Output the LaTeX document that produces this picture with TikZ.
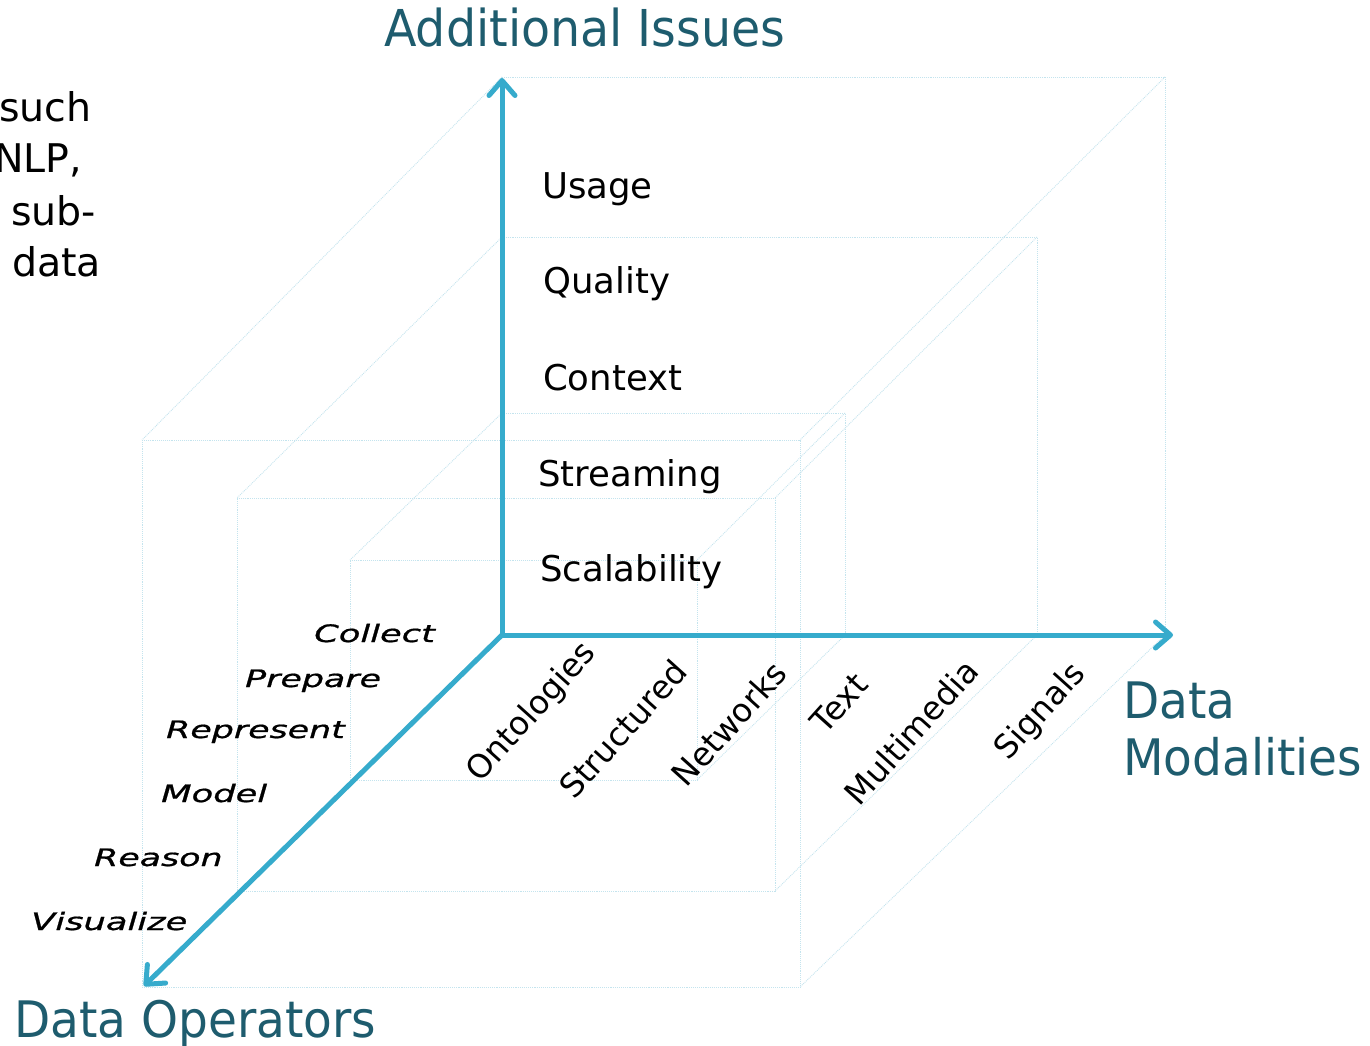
\documentclass[tikz,border=0pt]{standalone}
\usepackage{graphicx}
\usepackage{fontspec}
\setmainfont{DejaVu Sans}
\usetikzlibrary{arrows.meta}
\definecolor{axisblue}{RGB}{54,171,204}
\definecolor{titleteal}{RGB}{30,92,110}
\definecolor{faintline}{RGB}{196,228,238}
\tikzset{
  faint/.style={draw=faintline, line width=0.9pt, densely dotted},
  axisline/.style={draw=axisblue, line width=5pt, line cap=round, line join=round,
    -{Straight Barb[length=15pt,width=26pt,line cap=round,line join=round]}},
  titletext/.style={text=titleteal, inner sep=0pt, anchor=base west,
    font=\fontsize{47}{52}\selectfont},
  issue/.style={inner sep=0pt, anchor=base west, font=\fontsize{35.5}{42}\selectfont},
  operator/.style={inner sep=0pt, anchor=base west,
    font=\fontsize{24}{28}\selectfont\itshape\addfontfeature{FakeBold=0.7}},
  modality/.style={inner sep=0pt, anchor=center, rotate=48, font=\fontsize{32.5}{38}\selectfont},
  slidetext/.style={inner sep=0pt, anchor=base west, font=\fontsize{39.5}{46}\selectfont}
}
\begin{document}
\begin{tikzpicture}[x=1pt,y=-1pt]
\useasboundingbox (0,0) rectangle (1370,1046);
\clip (0,0) rectangle (1370,1046);
\fill[white] (0,0) rectangle (1370,1046);

% ---- faint nested boxes ----
% big box
\coordinate (bBTL) at (502,77);  \coordinate (bBTR) at (1165,77);
\coordinate (bBBR) at (1165,635);
\coordinate (bFTL) at (142,440); \coordinate (bFTR) at (800,440);
\coordinate (bFBR) at (800,987); \coordinate (bFBL) at (142,987);
\draw[faint] (bBTL) -- (bBTR) -- (bBBR);
\draw[faint] (bFTL) -- (bFTR) -- (bFBR) -- (bFBL) -- cycle;
\draw[faint] (bBTL) -- (bFTL);
\draw[faint] (bBTR) -- (bFTR);
\draw[faint] (bBBR) -- (bFBR);
% medium box
\coordinate (mBTL) at (502,237); \coordinate (mBTR) at (1037,237);
\coordinate (mBBR) at (1037,635);
\coordinate (mFTL) at (237,498); \coordinate (mFTR) at (775,498);
\coordinate (mFBR) at (775,891); \coordinate (mFBL) at (237,891);
\draw[faint] (mBTL) -- (mBTR) -- (mBBR);
\draw[faint] (mFTL) -- (mFTR) -- (mFBR) -- (mFBL) -- cycle;
\draw[faint] (mBTL) -- (mFTL);
\draw[faint] (mBTR) -- (mFTR);
\draw[faint] (mBBR) -- (mFBR);
% small box
\coordinate (sBTL) at (502,413); \coordinate (sBTR) at (845,413);
\coordinate (sBBR) at (845,635);
\coordinate (sFTL) at (350,560); \coordinate (sFTR) at (697,560);
\coordinate (sFBR) at (697,780); \coordinate (sFBL) at (350,780);
\draw[faint] (sBTL) -- (sBTR) -- (sBBR);
\draw[faint] (sFTL) -- (sFTR) -- (sFBR) -- (sFBL) -- cycle;
\draw[faint] (sBTL) -- (sFTL);
\draw[faint] (sBTR) -- (sFTR);
\draw[faint] (sBBR) -- (sFBR);

% ---- axes ----
\coordinate (O) at (502,635);
\coordinate (Ztip) at (502,78);
\coordinate (Xtip) at (1173,635);
\coordinate (Ytip) at (144,986);
\draw[axisline] (O) -- (Ztip);
\draw[axisline] (O) -- (Xtip);
\draw[axisline] (O) -- (Ytip);

% ---- titles ----
\node[titletext, font=\fontsize{47.5}{52}\selectfont] (tIssues) at (384,47) {\scalebox{1}[1.07]{Additional Issues}};
\node[titletext] (tOps) at (14,1037) {\scalebox{1}[1.07]{Data Operators}};
\node[titletext] (tData) at (1123,718) {\scalebox{1}[1.07]{Data}};
\node[titletext] (tMod) at (1123,775) {\scalebox{1}[1.07]{Modalities}};

% ---- additional issues ----
\node[issue] (usage) at (542,198) {Usage};
\node[issue] (quality) at (543,293) {Quality};
\node[issue] (context) at (543,390) {Context};
\node[issue] (streaming) at (538,486) {Streaming};
\node[issue] (scal) at (540,581) {Scalability};

% ---- data operators ----
\node[operator] (collect) at (314,642) {\scalebox{1.47}[1]{Collect}};
\node[operator] (prepare) at (245,687) {\scalebox{1.45}[1]{Prepare}};
\node[operator] (represent) at (166,738) {\scalebox{1.45}[1]{Represent}};
\node[operator] (model) at (161,802) {\scalebox{1.47}[1]{Model}};
\node[operator] (reason) at (94,866) {\scalebox{1.45}[1]{Reason}};
\node[operator] (visualize) at (31,930) {\scalebox{1.47}[1]{Visualize}};

% ---- data modalities ----
\node[modality] (onto) at (532,713) {Ontologies};
\node[modality] (struct) at (623,729) {Structured};
\node[modality] (netw) at (729,724) {Networks};
\node[modality] (textm) at (839,703) {Text};
\node[modality] (multi) at (911,732) {Multimedia};
\node[modality] (sig) at (1041,712) {Signals};

% ---- cropped slide text ----
\node[slidetext] (s1) at (-1,122) {such};
\node[slidetext] (s2) at (-6,172) {NLP,};
\node[slidetext] (s3) at (11,225) {sub-};
\node[slidetext] (s4) at (12,276) {data};
\end{tikzpicture}
\end{document}
